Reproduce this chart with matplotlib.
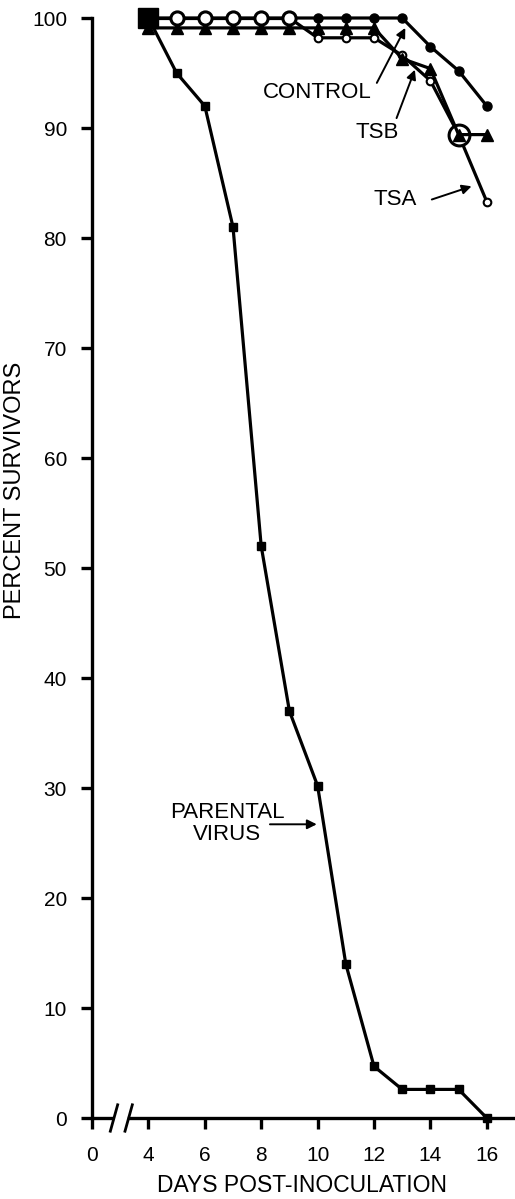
import matplotlib
matplotlib.use("Agg")
import matplotlib.pyplot as plt

plt.rcParams['font.family'] = ['Liberation Sans', 'DejaVu Sans']

# survival data (percent survivors per day)
days = [4, 5, 6, 7, 8, 9, 10, 11, 12, 13, 14, 15, 16]
parental = [100, 95, 92, 81, 52, 37, 30.2, 14, 4.7, 2.6, 2.6, 2.6, 0]
control = [100, 100, 100, 100, 100, 100, 100, 100, 100, 100, 97.4, 95.2, 92]
tsb = [99.1, 99.1, 99.1, 99.1, 99.1, 99.1, 99.1, 99.1, 99.1, 96.3, 95.4, 89.4, 89.4]
tsa = [100, 100, 100, 100, 100, 100, 98.2, 98.2, 98.2, 96.6, 94.3, 89.4, 83.3]

xtick_pos = [2, 4, 6, 8, 10, 12, 14, 16]
xtick_lab = ['0', '4', '6', '8', '10', '12', '14', '16']
yticks = [0, 10, 20, 30, 40, 50, 60, 70, 80, 90, 100]

W, H = 515, 1199
fig = plt.figure(figsize=(W / 100, H / 100), dpi=100)
ax = fig.add_axes([92 / W, 81 / H, (W - 92) / W, 1100 / H])
ax.set_xlim(2, 17.0)
ax.set_ylim(0, 100)

lw = 2.3
# TSA (open circles)
ax.plot(days, tsa, '-', color='black', lw=lw, marker='o', ms=5.5, mfc='white',
        mec='black', mew=1.5, clip_on=False, zorder=3)
ax.plot(days[1:6], tsa[1:6], 'o', ms=9.5, mfc='white', mec='black', mew=2.2,
        clip_on=False, zorder=6)
ax.plot(days[11], tsa[11], 'o', ms=15, mfc='white', mec='black', mew=2.2,
        clip_on=False, zorder=4)
# TSB (filled triangles)
ax.plot(days, tsb, '-', color='black', lw=lw, marker='^', ms=8.5,
        clip_on=False, zorder=5)
# control (filled circles)
ax.plot(days[5:], control[5:], '-', color='black', lw=lw, marker='o', ms=6.5,
        clip_on=False, zorder=4)
ax.plot(days[:6], control[:6], '-', color='black', lw=lw, clip_on=False, zorder=4)
# parental virus (filled squares)
ax.plot(days, parental, '-', color='black', lw=lw, marker='s', ms=6,
        clip_on=False, zorder=7)
ax.plot(days[0], parental[0], 's', color='black', ms=14, clip_on=False, zorder=8)

# axes styling
for s in ['top', 'right']:
    ax.spines[s].set_visible(False)
ax.spines['left'].set_linewidth(2.4)
ax.spines['bottom'].set_linewidth(2.4)
brk_lo, brk_hi = 2.78, 3.30
ax.spines['bottom'].set_bounds(brk_hi, 17.0)
ax.plot([2, brk_lo], [0, 0], color='black', lw=2.4, clip_on=False,
        solid_capstyle='butt')
for b in (brk_lo, brk_hi):
    ax.plot([b - 0.13, b + 0.13], [-1.2, 1.2], color='black', lw=2.0,
            clip_on=False)

ax.set_xticks(xtick_pos)
ax.set_xticklabels(xtick_lab)
ax.set_yticks(yticks)
ax.tick_params(axis='both', direction='out', length=8, width=2.4,
               labelsize=15)
ax.tick_params(axis='x', pad=12)
ax.tick_params(axis='y', pad=10)

fig.text(15 / W, 1 - 490 / H, 'PERCENT SURVIVORS', rotation=90,
         ha='center', va='center', fontsize=17)
fig.text(302 / W, 1 - 1186 / H, 'DAYS POST-INOCULATION',
         ha='center', va='center', fontsize=16.5)

# annotations
arrow = dict(arrowstyle='-|>', lw=1.4, color='black', mutation_scale=14,
             shrinkA=0, shrinkB=0)
ax.text(9.98, 93.2, 'CONTROL', ha='center', va='center', fontsize=16)
ax.annotate('', xy=(13.11, 99.1), xytext=(12.10, 94.1), arrowprops=arrow,
            zorder=9)
ax.text(12.11, 89.6, 'TSB', ha='center', va='center', fontsize=16)
ax.annotate('', xy=(13.45, 95.3), xytext=(12.80, 90.9), arrowprops=arrow,
            zorder=9)
ax.text(12.76, 83.5, 'TSA', ha='center', va='center', fontsize=16)
ax.annotate('', xy=(15.46, 84.7), xytext=(14.05, 83.5), arrowprops=arrow,
            zorder=9)
ax.text(6.80, 26.8, 'PARENTAL\nVIRUS', ha='center', va='center', fontsize=16,
        linespacing=1.05)
ax.annotate('', xy=(9.97, 26.7), xytext=(8.31, 26.7), arrowprops=arrow)

fig.savefig('out.png', dpi=100)
